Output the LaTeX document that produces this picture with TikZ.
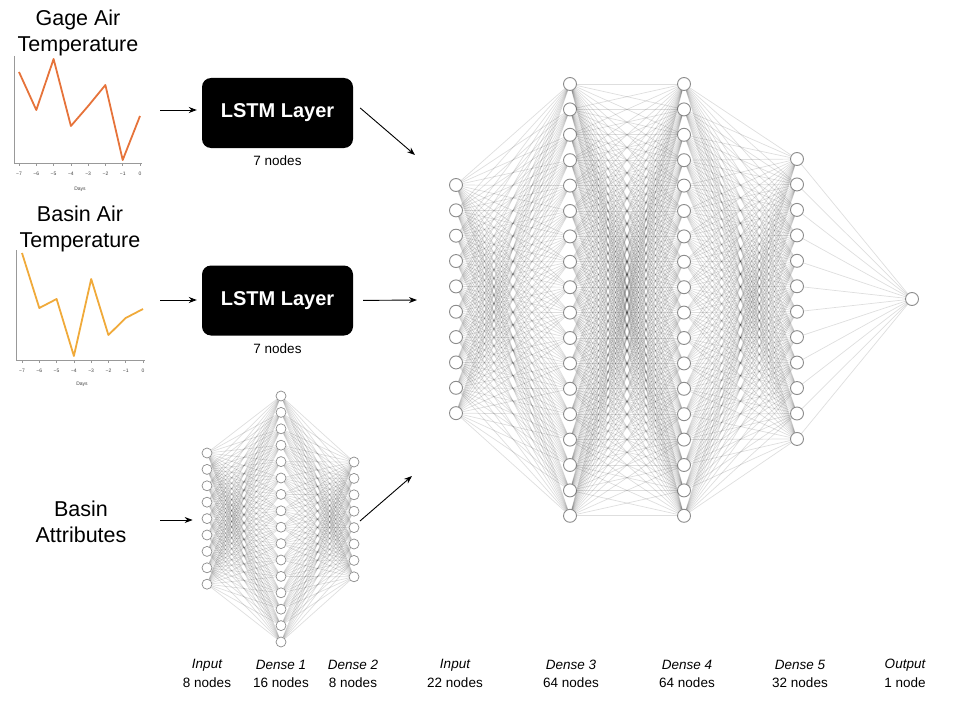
\documentclass[tikz,border=0pt]{standalone}
\usepackage{fontspec}
\setmainfont{Liberation Sans}
\usetikzlibrary{positioning,arrows.meta}
\definecolor{gageline}{HTML}{E6733A}
\definecolor{basinline}{HTML}{F0AA3A}

\begin{document}
\begin{tikzpicture}[x=1pt,y=-1pt,
		neuron/.style={circle,draw=black!45,fill=white,line width=0.9pt,minimum size=13pt,inner sep=0pt},
		smallneuron/.style={neuron,minimum size=10pt,line width=0.7pt},
		synapse/.style={draw=black,opacity=0.13,line width=0.7pt},
		lstm/.style={fill=black,rounded corners=9pt,minimum width=151pt,minimum height=70pt,text=white,font=\bfseries\fontsize{20}{24}\selectfont},
		title/.style={align=center,font=\fontsize{21.5}{26}\selectfont},
		layername/.style={font=\itshape\fontsize{13.5}{16}\selectfont},
		nodecount/.style={font=\fontsize{13.5}{16}\selectfont},
		flow/.style={-{Stealth[length=8pt,width=6pt]},line width=0.9pt},
		axisline/.style={draw=black!40,line width=0.6pt},
		ticklabel/.style={font=\fontsize{5}{6}\selectfont,text=black!75,inner sep=0pt}]
		\useasboundingbox (0,0) rectangle (964,701);

		% input series
		\node[title] (gagetitle) at (78,33) {Gage Air\\Temperature};
		\draw[axisline] (14,56) -- (14,163) -- (142,163);
		\foreach \k [count=\n from 0] in {−7,−6,−5,−4,−3,−2,−1,0} {
			\draw[axisline] ({19+17.29*\n},163) -- ({19+17.29*\n},166);
			\node[ticklabel] at ({19+17.29*\n},174) {\k};
		}
		\node[ticklabel] at (80,189) {Days};
		\draw[gageline,line width=1.8pt,line join=round] (19,72) -- (36.3,110) -- (53.6,59) -- (70.9,126) -- (88.2,106) -- (105.4,85) -- (122.7,160) -- (140,116);

		\node[title] (basintitle) at (80,228.5) {Basin Air\\Temperature};
		\draw[axisline] (16,250) -- (16,360) -- (145,360);
		\foreach \k [count=\n from 0] in {−7,−6,−5,−4,−3,−2,−1,0} {
			\draw[axisline] ({22+17.29*\n},360) -- ({22+17.29*\n},363);
			\node[ticklabel] at ({22+17.29*\n},371) {\k};
		}
		\node[ticklabel] at (82,384) {Days};
		\draw[basinline,line width=1.8pt,line join=round] (22,253) -- (39.3,308) -- (56.6,299) -- (73.9,356) -- (91.2,279) -- (108.4,335) -- (125.7,318) -- (143,309);

		\node[title] (attrtitle) at (81,521.5) {Basin\\Attributes};

		% lstm layers
		\node[lstm] (lstmA) at (277.5,113) {LSTM Layer};
		\node[nodecount,below=4pt of lstmA] (countA) {7 nodes};
		\node[lstm] (lstmB) at (277.5,300.5) {LSTM Layer};
		\node[nodecount,below=4pt of lstmB] (countB) {7 nodes};

		% attribute network
		\foreach \i in {1,...,9}
			\node[smallneuron] (ai\i) at (207,{453+16.4*(\i-1)}) {};
		\foreach \i in {1,...,16}
			\node[smallneuron] (ad1\i) at (281,{396+16.4*(\i-1)}) {};
		\foreach \i in {1,...,8}
			\node[smallneuron] (ad2\i) at (354,{462+16.4*(\i-1)}) {};
		\foreach \i in {1,...,9}
			\foreach \j in {1,...,16}
				\draw[synapse] (ai\i) -- (ad1\j);
		\foreach \i in {1,...,16}
			\foreach \j in {1,...,8}
				\draw[synapse] (ad1\i) -- (ad2\j);

		% main network
		\foreach \i in {1,...,10}
			\node[neuron] (ni\i) at (456,{185+25.35*(\i-1)}) {};
		\foreach \i in {1,...,18}
			\node[neuron] (nd3\i) at (570,{84+25.4*(\i-1)}) {};
		\foreach \i in {1,...,18}
			\node[neuron] (nd4\i) at (684,{84+25.4*(\i-1)}) {};
		\foreach \i in {1,...,12}
			\node[neuron] (nd5\i) at (797,{159+25.45*(\i-1)}) {};
		\node[neuron] (nout) at (912,299) {};
		\foreach \i in {1,...,10}
			\foreach \j in {1,...,18}
				\draw[synapse] (ni\i) -- (nd3\j);
		\foreach \i in {1,...,18}
			\foreach \j in {1,...,18}
				\draw[synapse] (nd3\i) -- (nd4\j);
		\foreach \i in {1,...,18}
			\foreach \j in {1,...,12}
				\draw[synapse] (nd4\i) -- (nd5\j);
		\foreach \i in {1,...,12}
			\draw[synapse] (nd5\i) -- (nout);

		% arrows
		\coordinate (gagesrc) at (160,110);
		\coordinate (basinsrc) at (160,300);
		\coordinate (attrsrc) at (160,520);
		\coordinate (catA) at (415,155);
		\coordinate (catB) at (417,300);
		\coordinate (catC) at (412,476);
		\coordinate (attrout) at (360,521);
		\draw[flow,shorten >=5pt] (gagesrc) -- (gagesrc -| lstmA.west);
		\draw[flow,shorten >=5pt] (basinsrc) -- (basinsrc -| lstmB.west);
		\draw[flow,shorten >=9pt] (attrsrc) -- (attrsrc -| ai5.west);
		\draw[flow] ([xshift=7pt,yshift=5pt]lstmA.east) -- (catA);
		\draw[flow,shorten <=10pt] (lstmB.east) -- (catB);
		\draw[flow] (attrout) -- (catC);

		% layer labels
		\foreach \x/\name/\size in {207/Input/8 nodes,281/Dense 1/16 nodes,353/Dense 2/8 nodes,455/Input/22 nodes,571/Dense 3/64 nodes,687/Dense 4/64 nodes,800/Dense 5/32 nodes,905/Output/1 node} {
			\node[layername] at (\x,665) {\name};
			\node[nodecount] at (\x,683) {\size};
		}
\end{tikzpicture}
\end{document}
